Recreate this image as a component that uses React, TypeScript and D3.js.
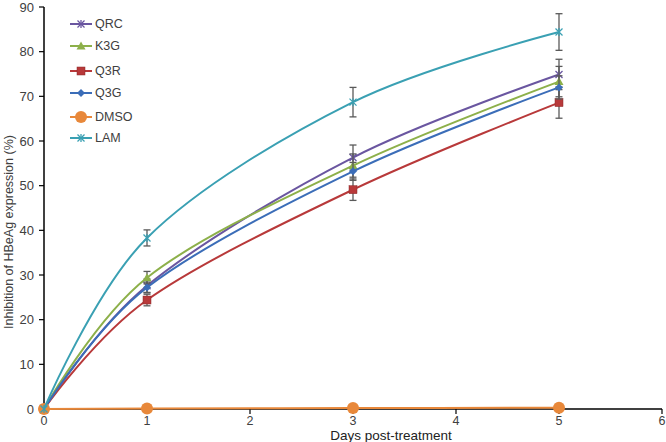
import React from "react";
import * as d3 from "d3";

const days = [0, 1, 3, 5];
const seriesNames = ["QRC", "K3G", "Q3R", "Q3G", "DMSO", "LAM"];
const QRC = [0, 27.6, 56.3, 74.9];
const K3G = [0, 29.4, 54.5, 73.3];
const Q3R = [0, 24.4, 49.1, 68.6];
const Q3G = [0, 27.2, 53.2, 72.0];
const DMSO = [0, 0.1, 0.2, 0.3];
const LAM = [0, 38.3, 68.7, 84.4];
const QRC_err = [0, 1.5, 2.8, 3.4];
const K3G_err = [0, 1.4, 2.6, 3.4];
const Q3R_err = [0, 1.3, 2.4, 3.5];
const Q3G_err = [0, 1.2, 2.0, 2.6];
const DMSO_err = [0, 0, 0, 0];
const LAM_err = [0, 1.8, 3.3, 4.1];
const xTicks = [0, 1, 2, 3, 4, 5, 6];
const yTicks = [0, 10, 20, 30, 40, 50, 60, 70, 80, 90];

const colors = ["#6A56A0", "#8DB04A", "#B8393A", "#3B6DB8", "#E8883A", "#3AA0B3"];
const markers = ["x", "triangle", "square", "diamond", "circle", "star"];
const values = [QRC, K3G, Q3R, Q3G, DMSO, LAM];
const errors = [QRC_err, K3G_err, Q3R_err, Q3G_err, DMSO_err, LAM_err];

function Marker({ type, x, y, color }: { type: string; x: number; y: number; color: string }) {
  const s = 3.5;
  switch (type) {
    case "triangle":
      return <path d={`M${x},${y - 4.5}L${x + 4.5},${y + 3.5}L${x - 4.5},${y + 3.5}Z`} fill={color} />;
    case "square":
      return <rect x={x - 4} y={y - 4} width={8} height={8} fill={color} stroke="#8a2a2a" strokeWidth={0.5} />;
    case "diamond":
      return <path d={`M${x},${y - 4}L${x + 4},${y}L${x},${y + 4}L${x - 4},${y}Z`} fill={color} />;
    case "circle":
      return <circle cx={x} cy={y} r={6} fill={color} />;
    default:
      return (
        <g stroke={color} strokeWidth={1.3}>
          <line x1={x - s} y1={y - s} x2={x + s} y2={y + s} />
          <line x1={x - s} y1={y + s} x2={x + s} y2={y - s} />
          <line x1={x} y1={y - s - 0.5} x2={x} y2={y + s + 0.5} />
        </g>
      );
  }
}

export default function App() {
  const W = 666;
  const H = 442;
  const x = d3.scaleLinear().domain([0, 6]).range([44, 662]);
  const y = d3.scaleLinear().domain([0, 90]).range([409, 7]);
  const line = d3
    .line<[number, number]>()
    .x((d) => x(d[0]))
    .y((d) => y(d[1]))
    .curve(d3.curveCardinal.tension(0));
  const font = "'Liberation Sans', Arial, sans-serif";
  const textColor = "#404040";

  return (
    <svg width={W} height={H} style={{ position: "absolute", left: 0, top: 0, background: "#fff" }} fontFamily={font}>
      <line x1={x(0)} y1={y(0)} x2={x(6)} y2={y(0)} stroke="#000" strokeWidth={1.5} />
      <line x1={x(0)} y1={y(0)} x2={x(0)} y2={y(90)} stroke="#000" strokeWidth={1.5} />
      {yTicks.map((t) => (
        <g key={"y" + t}>
          <line x1={x(0) - 5} x2={x(0)} y1={y(t)} y2={y(t)} stroke="#000" strokeWidth={1.2} />
          <text x={x(0) - 10} y={y(t)} dy="0.35em" textAnchor="end" fontSize={13} fill={textColor}>
            {t}
          </text>
        </g>
      ))}
      {xTicks.map((t) => (
        <g key={"x" + t}>
          <line x1={x(t)} x2={x(t)} y1={y(0)} y2={y(0) + 5} stroke="#000" strokeWidth={1.2} />
          <text x={x(t)} y={425} textAnchor="middle" fontSize={12.5} fill={textColor}>
            {t}
          </text>
        </g>
      ))}
      <text x={391} y={440} textAnchor="middle" fontSize={13.5} fill="#222">
        Days post-treatment
      </text>
      <text transform={`translate(13,232) rotate(-90)`} textAnchor="middle" fontSize={12.5} fill={textColor}>
        Inhibition of HBeAg expression (%)
      </text>

      {values.map((vals, i) => {
        const pts = days.map((d, j) => [d, vals[j]] as [number, number]);
        return (
          <g key={seriesNames[i]}>
            <path d={line(pts) || ""} fill="none" stroke={colors[i]} strokeWidth={2} />
            {days.map((d, j) =>
              errors[i][j] > 0 ? (
                <g key={j} stroke="#5a5a5a" strokeWidth={1.3}>
                  <line x1={x(d)} x2={x(d)} y1={y(vals[j] - errors[i][j])} y2={y(vals[j] + errors[i][j])} />
                  <line x1={x(d) - 3.5} x2={x(d) + 3.5} y1={y(vals[j] - errors[i][j])} y2={y(vals[j] - errors[i][j])} />
                  <line x1={x(d) - 3.5} x2={x(d) + 3.5} y1={y(vals[j] + errors[i][j])} y2={y(vals[j] + errors[i][j])} />
                </g>
              ) : null
            )}
            {days.map((d, j) => (
              <Marker key={"m" + j} type={markers[i]} x={x(d)} y={y(vals[j])} color={colors[i]} />
            ))}
          </g>
        );
      })}

      {seriesNames.map((n, i) => {
        const ly = [24, 46, 71, 93, 117, 138][i];
        return (
          <g key={"lg" + n}>
            <line x1={70} x2={92} y1={ly} y2={ly} stroke={colors[i]} strokeWidth={2} />
            <Marker type={markers[i]} x={81} y={ly} color={colors[i]} />
            <text x={95} y={ly} dy="0.35em" fontSize={12.5} fill={textColor}>
              {n}
            </text>
          </g>
        );
      })}
    </svg>
  );
}
